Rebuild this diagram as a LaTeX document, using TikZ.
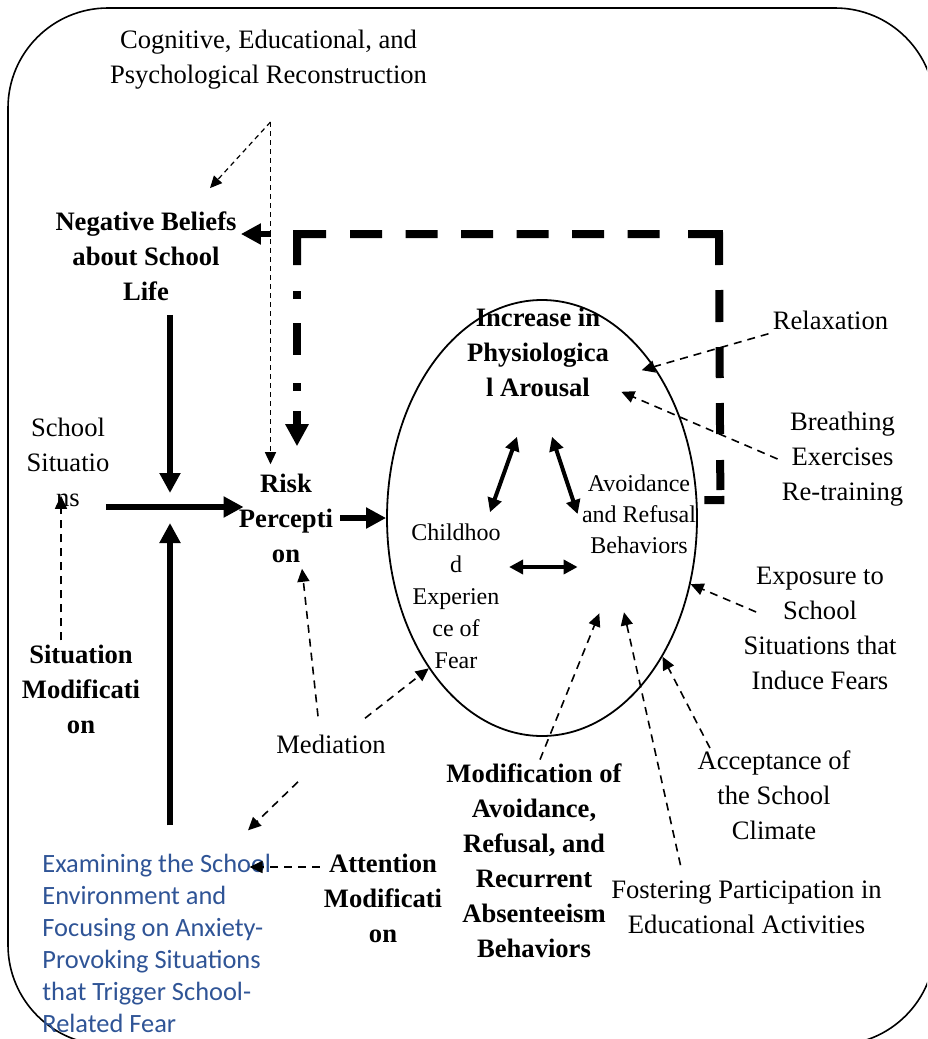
\documentclass[tikz,border=0pt]{standalone}
\usepackage{fontspec}
\setmainfont{Liberation Serif}
\newfontfamily\calibri{Carlito}
\usetikzlibrary{arrows.meta,shapes.geometric,calc}
\definecolor{wordblue}{RGB}{47,84,150}
\begin{document}
\begin{tikzpicture}[x=0.5pt,y=-0.5pt,
    txt/.style={align=center,inner sep=2pt,font=\fontsize{13.3}{17.5}\selectfont},
    btxt/.style={txt,font=\fontsize{13.3}{17.5}\selectfont\bfseries},
    dasharrow/.style={line width=.8pt,dash pattern=on 4pt off 3pt,-{Triangle[length=6.5pt,width=6pt]}},
    thinarrow/.style={line width=.6pt,dash pattern=on 2.5pt off 2pt,-{Triangle[length=6pt,width=5.5pt]}},
    bigarrow/.style={line width=3pt,-{Triangle[length=10pt,width=10pt]}},
    twoway/.style={line width=2pt,{Triangle[length=7pt,width=7pt]}-{Triangle[length=7pt,width=7pt]}},
    fbline/.style={line width=4pt}]
\clip (0,0) rectangle (927,1039);
\draw[line width=.8pt,rounded corners=50pt] (8,8) rectangle (935,1045);
\node[txt] (cogn) at (268.5,60) {Cognitive, Educational, and\\Psychological Reconstruction};
\node[btxt] (negb) at (146,256) {Negative Beliefs\\about School\\Life};
\node[txt] (schsit) at (68,462) {School\\Situatio\\ns};
\node[btxt,inner sep=0pt] (risk) at (286,518) {Risk\\Percepti\\on};
\node[btxt] (sitmod) at (81,689) {Situation\\Modificati\\on};
\node[draw,ellipse,line width=.9pt,minimum width=155pt,minimum height=218pt,inner sep=0pt] (fear) at (542,518) {};
\node[btxt] (arousal) at (538,352) {Increase in\\Physiologica\\l Arousal};
\node[txt,font=\fontsize{12}{16}\selectfont] (child) at (456,596) {Childhoo\\d\\Experien\\ce of\\Fear};
\node[txt,font=\fontsize{12}{15.5}\selectfont] (avoid) at (639,514) {Avoidance\\and Refusal\\Behaviors};
\node[txt] (relax) at (830.5,320) {Relaxation};
\node[txt] (breath) at (842.5,459) {Breathing\\Exercises\\Re-training};
\node[txt] (expo) at (820,628) {Exposure to\\School\\Situations that\\Induce Fears};
\node[txt] (accept) at (774,795) {Acceptance of\\the School\\Climate};
\node[txt] (foster) at (746.5,907) {Fostering Participation in\\Educational Activities};
\node[btxt] (modif) at (534,861) {Modification of\\Avoidance,\\Refusal, and\\Recurrent\\Absenteeism\\Behaviors};
\node[txt] (medi) at (331,744) {Mediation};
\node[btxt] (attn) at (383,898) {Attention\\Modificati\\on};
\node[align=left,anchor=west,inner sep=2pt,text=wordblue,font=\calibri\fontsize{13.2}{16}\selectfont] (exam) at (38,943) {Examining the School\\Environment and\\Focusing on Anxiety-\\Provoking Situations\\that Trigger School-\\Related Fear};
\coordinate (split) at ($(cogn.south)+(2,28)$);
\coordinate (jn) at (170,507);
\coordinate (fbl) at (297,234);
\coordinate (fbr) at (719,234);
\draw[thinarrow] (split) -- ($(negb.north)+(64,-19)$);
\draw[thinarrow] (split) -- ($(split |- risk.north)+(0,-9)$);
\draw[bigarrow] (split |- fbl) -- (negb.east |- fbl);
\draw[fbline,dash pattern=on 10pt off 3pt on 15pt off 13pt on 15.5pt off 12.5pt on 15.5pt off 12.5pt on 16pt off 12.5pt on 31pt off 14.25pt on 16pt off 11.75pt on 16pt off 11.75pt on 16pt off 11.75pt on 16pt off 11.75pt on 16pt off 11.75pt on 16pt off 12pt on 40pt]
  ($(avoid.east)+(4,-14)$) -- ($(avoid.east)+(20,-14)$) -- (fbr) -- (fbl) -- ++(0,31);
\draw[fbline,dash pattern=on 0pt off 13pt on 4pt off 12pt on 16pt off 14pt on 4pt off 10pt on 60pt,-{Triangle[length=11pt,width=11pt]}]
  ($(fbl)+(0,31)$) -- ($(fbl |- risk.north)+(0,-27)$);
\draw[bigarrow] ($(negb.south -| jn)+(0,10)$) -- ($(jn)+(0,-14)$);
\draw[bigarrow] ($(schsit.east |- jn)+(-8,0)$) -- ($(risk.west |- jn)+(5,0)$);
\draw[bigarrow] ($(exam.north -| jn)+(0,-24)$) -- ($(jn)+(0,16)$);
\draw[bigarrow] ($(risk.east |- fear.west)+(7,0)$) -- (fear.west);
\draw[twoway] ($(arousal.south)+(-21,36)$) -- ($(child.north)+(34,-7)$);
\draw[twoway] ($(arousal.south)+(14,36)$) -- (avoid.west);
\draw[twoway] ($(child.east)+(4,-29)$) coordinate (ha) -- (ha -| avoid.west);
\draw[dasharrow] (relax.south west) -- ($(fear.center)!0.93!(fear.56)$);
\draw[dasharrow] (breath.west) -- ($(arousal.south east)+(8,-9)$);
\draw[dasharrow] ($(expo.west)+(17,-16)$) -- (fear.-24);
\draw[dasharrow] ($(accept.north)+(-64,2)$) -- (fear.-49);
\draw[dasharrow] ($(foster.north)+(-66,-11)$) -- ($(fear.center)!0.68!(fear.-49)$);
\draw[dasharrow] ($(modif.north)+(6,0)$) -- ($(fear.center)!0.57!(fear.-59)$);
\draw[dasharrow] ($(medi.north)+(-13,-14)$) -- ($(risk.south)+(16,6)$);
\draw[dasharrow] ($(medi.north)+(34,-12)$) -- (fear.-127);
\draw[dasharrow] ($(medi.south)+(-33,24)$) -- ($(exam.north west)+(210,-19)$);
\draw[dasharrow] ($(attn.west)+(0,-31)$) -- ++(-70,0);
\draw[dasharrow] ($(sitmod.north)+(-20,0)$) -- ($(schsit.south)+(-7,-15)$);
\end{tikzpicture}
\end{document}
